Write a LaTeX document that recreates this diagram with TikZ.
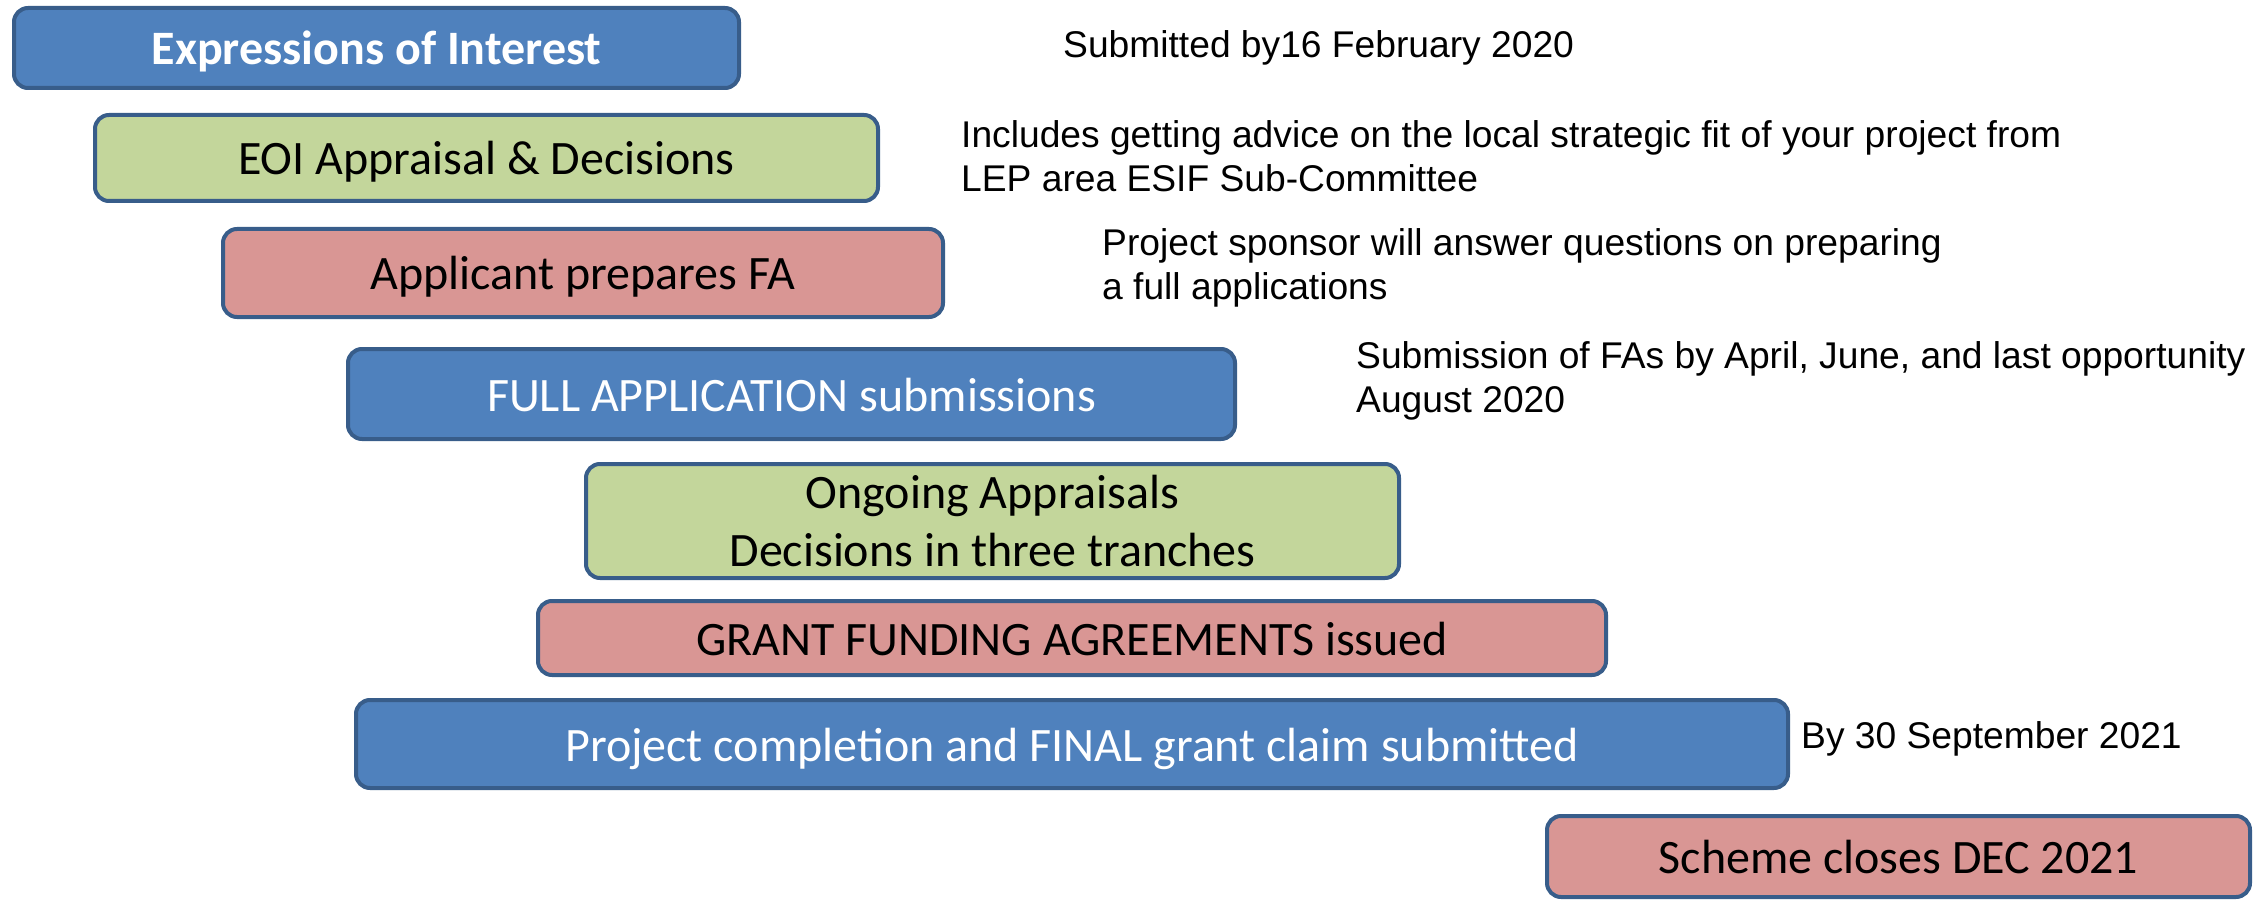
\documentclass[tikz,border=0pt]{standalone}
\usepackage{fontspec}
\setmainfont{Carlito}
\newfontfamily\notefont{Liberation Sans}
\definecolor{bluefill}{HTML}{4F81BD}
\definecolor{greenfill}{HTML}{C3D69B}
\definecolor{redfill}{HTML}{D99694}
\definecolor{edgeblue}{HTML}{385D8A}
\begin{document}
\begin{tikzpicture}[x=1pt,y=-1pt,
  stagebase/.style={draw=edgeblue, line width=4pt, rounded corners=14pt, inner sep=0pt,
    font=\fontsize{48}{58}\selectfont, align=center},
  stage/.style={stagebase, text height=34pt, text depth=0pt},
  bluebox/.style={stage, fill=bluefill, text=white},
  greenbox/.style={stage, fill=greenfill, text=black},
  greentwo/.style={stagebase, fill=greenfill, text=black},
  redbox/.style={stage, fill=redfill, text=black},
  note/.style={anchor=west, inner sep=0pt, align=left, text=black,
    font=\notefont\fontsize{37.2}{43.5}\selectfont}]
\useasboundingbox (0,0) rectangle (2267,901);
% stages
\node[bluebox, minimum width=725pt, minimum height=80pt] (eoi) at (376.5,48) {\textbf{Expressions of Interest}};
\node[greenbox, minimum width=783pt, minimum height=86pt] (app) at (486.5,158) {EOI Appraisal \& Decisions};
\node[redbox, minimum width=720pt, minimum height=88pt] (prep) at (583,273) {Applicant prepares FA};
\node[bluebox, minimum width=887pt, minimum height=90pt] (full) at (791.5,394) {FULL APPLICATION submissions};
\node[greentwo, minimum width=813pt, minimum height=114pt] (ongo) at (992.5,521) {Ongoing Appraisals\\Decisions in three tranches};
\node[redbox, minimum width=1068pt, minimum height=74pt] (grant) at (1072,638) {GRANT FUNDING AGREEMENTS issued};
\node[bluebox, minimum width=1432pt, minimum height=88pt] (final) at (1072,744) {Project completion and FINAL grant claim submitted};
\node[redbox, minimum width=703pt, minimum height=81pt] (close) at (1898.5,856.5) {Scheme closes DEC 2021};
% notes
\node[note] (n1) at (1063,48) {Submitted by16 February 2020};
\node[note] (n2) at (961,156) {Includes getting advice on the local strategic fit of your project from\\LEP area ESIF Sub-Committee};
\node[note] (n3) at (1102,268) {Project sponsor will answer questions on preparing\\a full applications};
\node[note] (n4) at (1356,381) {Submission of FAs by April, June, and last opportunity\\August 2020};
\node[note] (n5) at (1801,739) {By 30 September 2021};
\end{tikzpicture}
\end{document}
